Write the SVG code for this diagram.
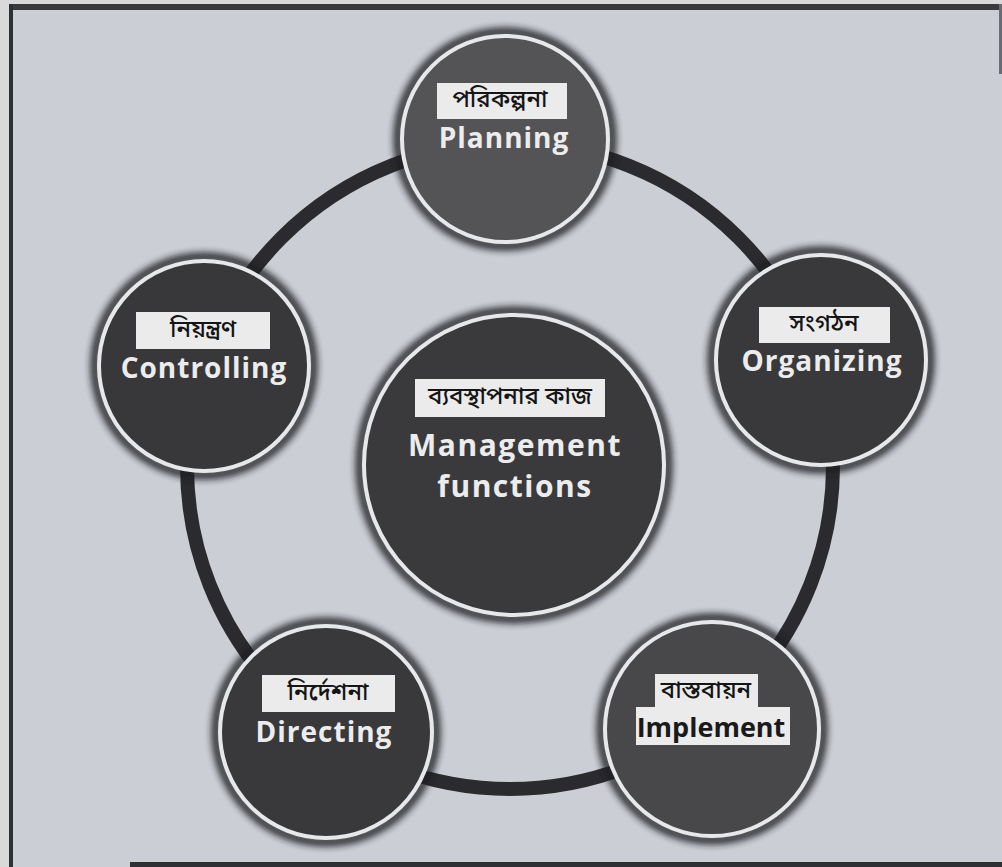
<svg xmlns="http://www.w3.org/2000/svg" width="1002" height="867" viewBox="0 0 1002 867">
  <defs>
    <filter id="soft" x="-20%" y="-20%" width="140%" height="140%">
      <feGaussianBlur stdDeviation="3"/>
    </filter>
  </defs>
  <style>
    .halo { fill: none; stroke: #1e1e22; stroke-width: 10; opacity: 0.8; }
    .disc { stroke: #e6e8ea; stroke-width: 4; }
    .box { fill: #ebebeb; }
    .bn { font-family: "Noto Sans Bengali", "Noto Serif Bengali", "Lohit Bengali", "Noto Sans", sans-serif; font-size: 24px; font-weight: 500; fill: #151515; text-anchor: middle; }
    .en { font-family: "Open Sans", "Noto Sans", "DejaVu Sans", sans-serif; font-weight: 700; font-size: 28px; letter-spacing: 1px; fill: #ececec; text-anchor: middle; }
    .big { font-size: 30px; letter-spacing: 1.5px; }
    .en-dark { fill: #1a1a1a; font-size: 27px; letter-spacing: 0; }
    .ring { fill: none; stroke: #2b2b2f; stroke-width: 14; }
  </style>

  <!-- page and frame -->
  <rect x="0" y="0" width="1002" height="867" fill="#d9d9da"/>
  <rect x="11" y="6" width="991" height="861" fill="#cbced4"/>
  <rect x="11" y="4" width="991" height="6" fill="#3a3a3e"/>
  <rect x="9" y="4" width="4" height="863" fill="#2f3034"/>
  <rect x="999" y="4" width="3" height="70" fill="#6a6b70"/>
  <rect x="130" y="862" width="872" height="5" fill="#2f3034"/>

  <!-- cycle ring linking the functions -->
  <g id="connectors">
    <circle class="ring" cx="510" cy="466" r="323"/>
  </g>

  <g id="node-planning">
    <circle class="halo" cx="505" cy="139" r="107" filter="url(#soft)"/>
    <circle class="disc" cx="505" cy="139" r="103" fill="#545457"/>
    <rect class="box" x="437" y="83" width="130" height="36"/>
    <text class="bn" x="500" y="107">পরিকল্পনা</text>
    <text class="en" x="504" y="148">Planning</text>
  </g>

  <g id="node-organizing">
    <circle class="halo" cx="821" cy="360" r="109" filter="url(#soft)"/>
    <circle class="disc" cx="821" cy="360" r="105" fill="#39393c"/>
    <rect class="box" x="759" y="307" width="131" height="36"/>
    <text class="bn" x="824" y="331">সংগঠন</text>
    <text class="en" x="822" y="371">Organizing</text>
  </g>

  <g id="node-controlling">
    <circle class="halo" cx="204" cy="366" r="109" filter="url(#soft)"/>
    <circle class="disc" cx="204" cy="366" r="105" fill="#38383b"/>
    <rect class="box" x="136" y="312" width="134" height="37"/>
    <text class="bn" x="203" y="337">নিয়ন্ত্রণ</text>
    <text class="en" x="204" y="378">Controlling</text>
  </g>

  <g id="node-management">
    <circle class="halo" cx="514" cy="465" r="154" filter="url(#soft)"/>
    <circle class="disc" cx="514" cy="465" r="150" fill="#3a3a3d"/>
    <rect class="box" x="415" y="379" width="190" height="38"/>
    <text class="bn" x="510" y="404">ব্যবস্থাপনার কাজ</text>
    <text class="en big" x="515" y="456">Management</text>
    <text class="en big" x="515" y="497">functions</text>
  </g>

  <g id="node-directing">
    <circle class="halo" cx="326" cy="732" r="110" filter="url(#soft)"/>
    <circle class="disc" cx="326" cy="732" r="106" fill="#39393c"/>
    <rect class="box" x="262" y="675" width="133" height="37"/>
    <text class="bn" x="328" y="700">নির্দেশনা</text>
    <text class="en" x="324" y="742">Directing</text>
  </g>

  <g id="node-implement">
    <circle class="halo" cx="712" cy="729" r="111" filter="url(#soft)"/>
    <circle class="disc" cx="712" cy="729" r="107" fill="#48484b"/>
    <path class="box" d="M655 674 H758 V707 H790 V745 H636 V707 H655 Z"/>
    <text class="bn" x="706" y="698">বাস্তবায়ন</text>
    <text class="en en-dark" x="711" y="737">Implement</text>
  </g>
</svg>
